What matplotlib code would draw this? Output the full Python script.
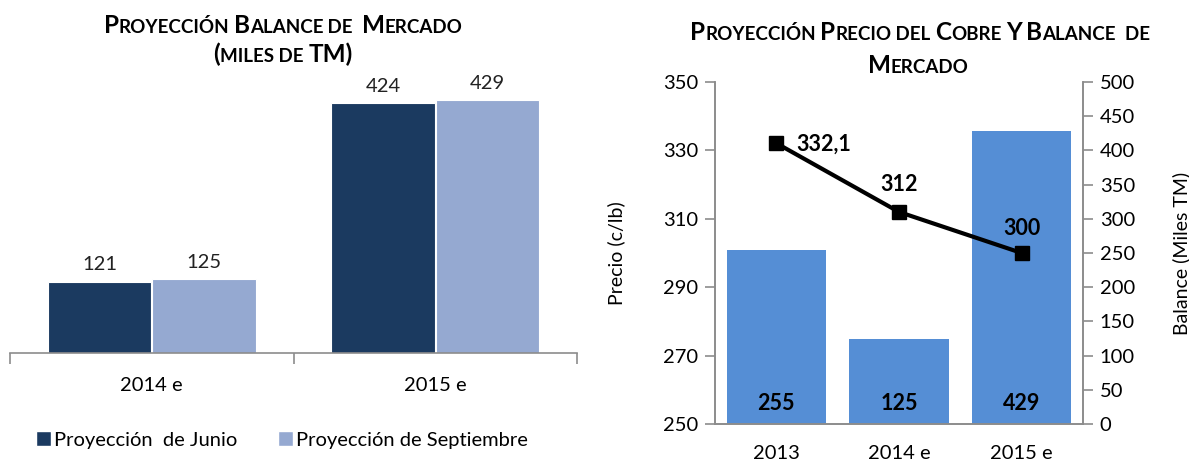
import matplotlib
matplotlib.use("Agg")
import matplotlib.pyplot as plt
from matplotlib.patches import Patch
import numpy as np

plt.rcParams['font.family'] = ['Lato', 'DejaVu Sans']

# ---- data ----
left_categories = ["2014 e", "2015 e"]
junio = [121, 424]
septiembre = [125, 429]
legend_labels = ["Proyección  de Junio", "Proyección de Septiembre"]

right_categories = ["2013", "2014 e", "2015 e"]
balance = [255, 125, 429]
precio = [332.1, 312, 300]
precio_labels = ["332,1", "312", "300"]
balance_labels = ["255", "125", "429"]

W, H = 1189, 463
fig = plt.figure(figsize=(W / 100, H / 100), dpi=100)

def fx(px):
    return px / W

def fy(py):
    return 1 - py / H

dark = "#1B3A60"
light = "#95A9D1"
blue = "#558ED5"
gray = "#8C8C8C"
FS = 14.5

# ---- left chart ----
axL = fig.add_axes([fx(10), fy(353), fx(577) - fx(10), fy(88) - fy(353)])
x = np.arange(len(left_categories))
bw = 0.365
b1 = axL.bar(x - bw / 2 - 0.002, junio, bw, color=dark, edgecolor="white", linewidth=0.8)
b2 = axL.bar(x + bw / 2 + 0.002, septiembre, bw, color=light, edgecolor="white", linewidth=0.8)
axL.set_xlim(-0.5, 1.5)
axL.set_ylim(0, 450)
for rect, v in zip(list(b1) + list(b2), junio + septiembre):
    axL.text(rect.get_x() + rect.get_width() / 2, v + 14, str(v), ha="center", va="bottom",
             fontsize=FS, color="#222222")
for s in ["top", "left", "right"]:
    axL.spines[s].set_visible(False)
axL.spines["bottom"].set_color(gray)
axL.spines["bottom"].set_linewidth(1.2)
axL.set_yticks([])
axL.set_xticks([-0.5, 0.5, 1.5], minor=False)
axL.set_xticklabels([])
axL.tick_params(axis="x", length=8, color=gray, width=1.2)
axL.set_xticks(x, minor=True)
axL.set_xticklabels(left_categories, minor=True, fontsize=FS)
axL.tick_params(axis="x", which="minor", length=0, pad=17)
handles = [Patch(facecolor=dark, edgecolor="white"), Patch(facecolor=light, edgecolor="white")]
fig.legend(handles, legend_labels, loc="center left", bbox_to_anchor=(fx(28), fy(440)),
           ncol=2, frameon=False, fontsize=FS, handlelength=0.75, handleheight=0.75,
           handletextpad=0.15, columnspacing=2.0, borderaxespad=0)

# ---- right chart ----
RL, RR = 715, 1083
axR = fig.add_axes([fx(RL), fy(424), fx(RR) - fx(RL), fy(82) - fy(424)])
axB = axR.twinx()
xr = np.arange(len(right_categories))
bars = axB.bar(xr, balance, 0.81, color=blue)
axB.set_ylim(0, 500)
axB.set_yticks(np.arange(0, 501, 50))
for rect, lab in zip(bars, balance_labels):
    axB.text(rect.get_x() + rect.get_width() / 2, 20, lab, ha="center", va="baseline",
             fontsize=15.5, fontweight="bold", color="black")
axR.set_zorder(axB.get_zorder() + 1)
axR.patch.set_visible(False)
axR.plot(xr, precio, color="black", linewidth=3.0, marker="s", markersize=9.5, zorder=5)
offsets = [(0.39, -0.4), (0.0, 7.9), (0.0, 7.3)]
for xi, v, lab, (dx, dy) in zip(xr, precio, precio_labels, offsets):
    axR.text(xi + dx, v + dy, lab, ha="center", va="center", fontsize=15.5,
             fontweight="bold", color="black")
axR.set_ylim(250, 350)
axR.set_yticks(np.arange(250, 351, 20))
axR.set_xlim(-0.5, 2.5)
for a in (axR, axB):
    a.spines["top"].set_visible(False)
    for s in ["left", "right", "bottom"]:
        a.spines[s].set_color(gray)
        a.spines[s].set_linewidth(1.2)
axR.tick_params(axis="y", length=7, color=gray, width=1.2, labelsize=FS, pad=5)
axB.tick_params(axis="y", length=7, color=gray, width=1.2, labelsize=FS, pad=5)
axR.set_xticks([-0.5, 0.5, 1.5, 2.5])
axR.set_xticklabels([])
axR.tick_params(axis="x", length=7, color=gray, width=1.2)
axR.set_xticks(xr, minor=True)
axR.set_xticklabels(right_categories, minor=True, fontsize=FS)
axR.tick_params(axis="x", which="minor", length=0, pad=15)
axB.set_xticks([])
axR.set_ylabel("Precio (c/lb)", fontsize=14)
axB.set_ylabel("Balance (Miles TM)", fontsize=14)
axR.yaxis.set_label_coords((625 - RL) / (RR - RL), 0.5)
axB.yaxis.set_label_coords((1172 - RL) / (RR - RL), 0.5)

# ---- small caps titles ----
renderer = fig.canvas.get_renderer()

def small_caps(pieces, cx, cy, big=17.5, small=13.5):
    texts = []
    for s, is_big in pieces:
        t = fig.text(0, fy(cy), s, fontsize=big if is_big else small, fontweight="bold",
                     ha="left", va="baseline", color="black")
        texts.append(t)
    widths = [t.get_window_extent(renderer).width for t in texts]
    total = sum(widths)
    xpos = cx - total / 2
    for t, w in zip(texts, widths):
        t.set_x(fx(xpos))
        xpos += w

def parse(words):
    pieces = []
    for w in words:
        if w[0].isupper():
            pieces.append((w[0], True))
            if len(w) > 1:
                pieces.append((w[1:].upper(), False))
        else:
            pieces.append((w.upper(), False))
    return pieces

small_caps(parse(["Proyección", " ", "Balance", " de  ", "Mercado"]), 283, 33)
small_caps([("(", True), ("MILES DE ", False), ("TM)", True)], 283, 62)
small_caps(parse(["Proyección", " ", "Precio", " del ", "Cobre", " ", "Y", " ", "Balance", "  de"]), 920, 40)
small_caps(parse(["Mercado"]), 918, 73)

fig.savefig("out.png", dpi=100)
